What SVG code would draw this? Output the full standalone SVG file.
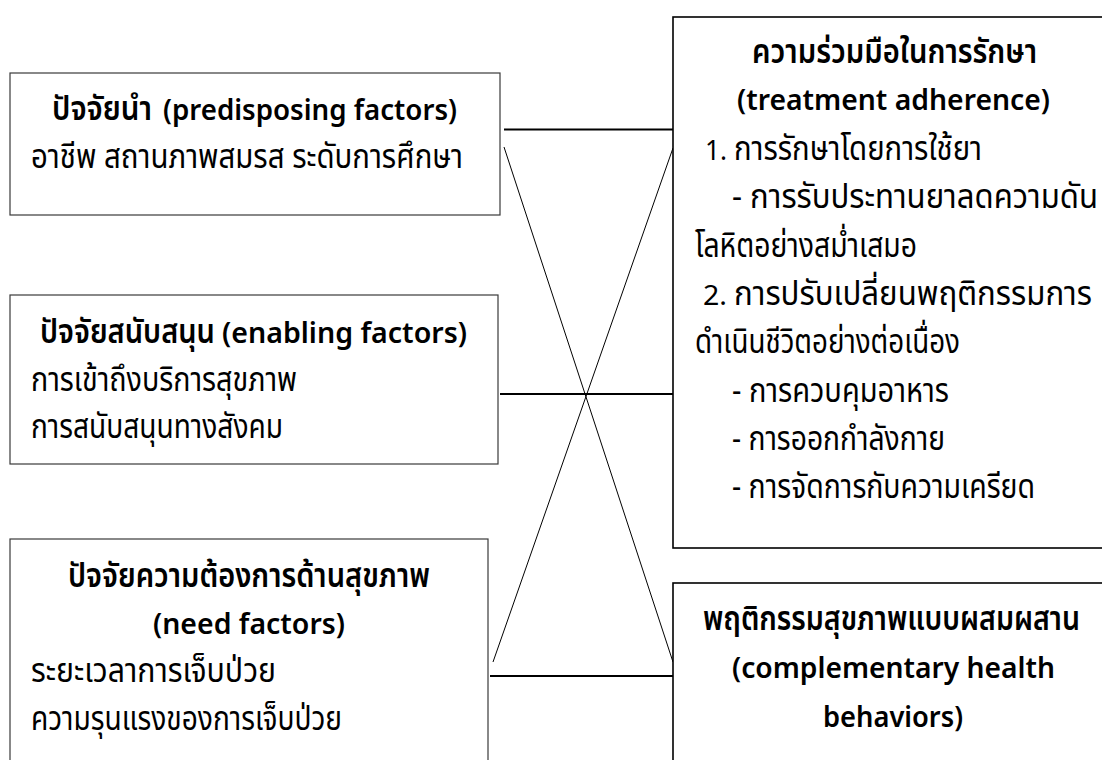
<svg xmlns="http://www.w3.org/2000/svg" width="1102" height="760" viewBox="0 0 1102 760">
<style>
.bg{fill:#ffffff}
.lbox{fill:#ffffff;stroke:#3a3a3a;stroke-width:1.2}
.rbox{fill:#ffffff;stroke:#000000;stroke-width:1.6}
.hl{stroke:#000000;stroke-width:1.8;fill:none}
.dl{stroke:#000000;stroke-width:1;fill:none}
text{font-family:"Noto Sans","Noto Sans Thai","Leelawadee UI",Tahoma,sans-serif;font-size:33px;fill:#000000}
.lat{font-size:28px}
.b{font-weight:600}
</style>
<rect class="bg" x="0" y="0" width="1102" height="760"/>
<g id="connectors">
<line class="hl" x1="504" y1="129.5" x2="673" y2="129.5"/>
<line class="hl" x1="500" y1="394" x2="673" y2="394"/>
<line class="hl" x1="490" y1="676" x2="673" y2="676"/>
<line class="dl" x1="504" y1="147" x2="673" y2="662"/>
<line class="dl" x1="673" y1="148" x2="493" y2="662"/>
</g>
<g id="node-predisposing">
<rect class="lbox" x="10" y="73" width="490" height="142"/>
<text class="b" x="52" y="120" textLength="100" lengthAdjust="spacingAndGlyphs">ปัจจัยนำ</text>
<text class="b lat" x="163" y="120" textLength="294" lengthAdjust="spacingAndGlyphs">(predisposing factors)</text>
<text x="31" y="168" textLength="432" lengthAdjust="spacingAndGlyphs">อาชีพ สถานภาพสมรส ระดับการศึกษา</text>
</g>
<g id="node-enabling">
<rect class="lbox" x="10" y="295" width="488" height="169"/>
<text class="b" x="40" y="343" textLength="175" lengthAdjust="spacingAndGlyphs">ปัจจัยสนับสนุน</text>
<text class="b lat" x="222" y="343" textLength="245" lengthAdjust="spacingAndGlyphs">(enabling factors)</text>
<text x="31" y="391" textLength="266" lengthAdjust="spacingAndGlyphs">การเข้าถึงบริการสุขภาพ</text>
<text x="31" y="438" textLength="252" lengthAdjust="spacingAndGlyphs">การสนับสนุนทางสังคม</text>
</g>
<g id="node-need">
<rect class="lbox" x="10" y="539" width="478" height="240"/>
<text class="b" x="68" y="587" textLength="362" lengthAdjust="spacingAndGlyphs">ปัจจัยความต้องการด้านสุขภาพ</text>
<text class="b lat" x="153" y="634" textLength="192" lengthAdjust="spacingAndGlyphs">(need factors)</text>
<text x="31" y="682" textLength="245" lengthAdjust="spacingAndGlyphs">ระยะเวลาการเจ็บป่วย</text>
<text x="31" y="730" textLength="311" lengthAdjust="spacingAndGlyphs">ความรุนแรงของการเจ็บป่วย</text>
</g>
<g id="node-adherence">
<rect class="rbox" x="673" y="17" width="440" height="531"/>
<text class="b" x="752" y="63" textLength="285" lengthAdjust="spacingAndGlyphs">ความร่วมมือในการรักษา</text>
<text class="b lat" x="737" y="110" textLength="313" lengthAdjust="spacingAndGlyphs">(treatment adherence)</text>
<text class="lat" x="705" y="160" textLength="22" lengthAdjust="spacingAndGlyphs">1.</text>
<text x="734" y="160" textLength="248" lengthAdjust="spacingAndGlyphs">การรักษาโดยการใช้ยา</text>
<text x="732" y="208" textLength="366" lengthAdjust="spacingAndGlyphs">- การรับประทานยาลดความดัน</text>
<text x="695" y="257" textLength="222" lengthAdjust="spacingAndGlyphs">โลหิตอย่างสม่ำเสมอ</text>
<text class="lat" x="703" y="305" textLength="24" lengthAdjust="spacingAndGlyphs">2.</text>
<text x="734" y="305" textLength="358" lengthAdjust="spacingAndGlyphs">การปรับเปลี่ยนพฤติกรรมการ</text>
<text x="695" y="353" textLength="265" lengthAdjust="spacingAndGlyphs">ดำเนินชีวิตอย่างต่อเนื่อง</text>
<text x="732" y="402" textLength="217" lengthAdjust="spacingAndGlyphs">- การควบคุมอาหาร</text>
<text x="732" y="450" textLength="213" lengthAdjust="spacingAndGlyphs">- การออกกำลังกาย</text>
<text x="732" y="498" textLength="303" lengthAdjust="spacingAndGlyphs">- การจัดการกับความเครียด</text>
</g>
<g id="node-complementary">
<rect class="rbox" x="673" y="583" width="440" height="200"/>
<text class="b" x="703" y="630" textLength="377" lengthAdjust="spacingAndGlyphs">พฤติกรรมสุขภาพแบบผสมผสาน</text>
<text class="b lat" x="732" y="678" textLength="323" lengthAdjust="spacingAndGlyphs">(complementary health</text>
<text class="b lat" x="823" y="727" textLength="140" lengthAdjust="spacingAndGlyphs">behaviors)</text>
</g>
</svg>
